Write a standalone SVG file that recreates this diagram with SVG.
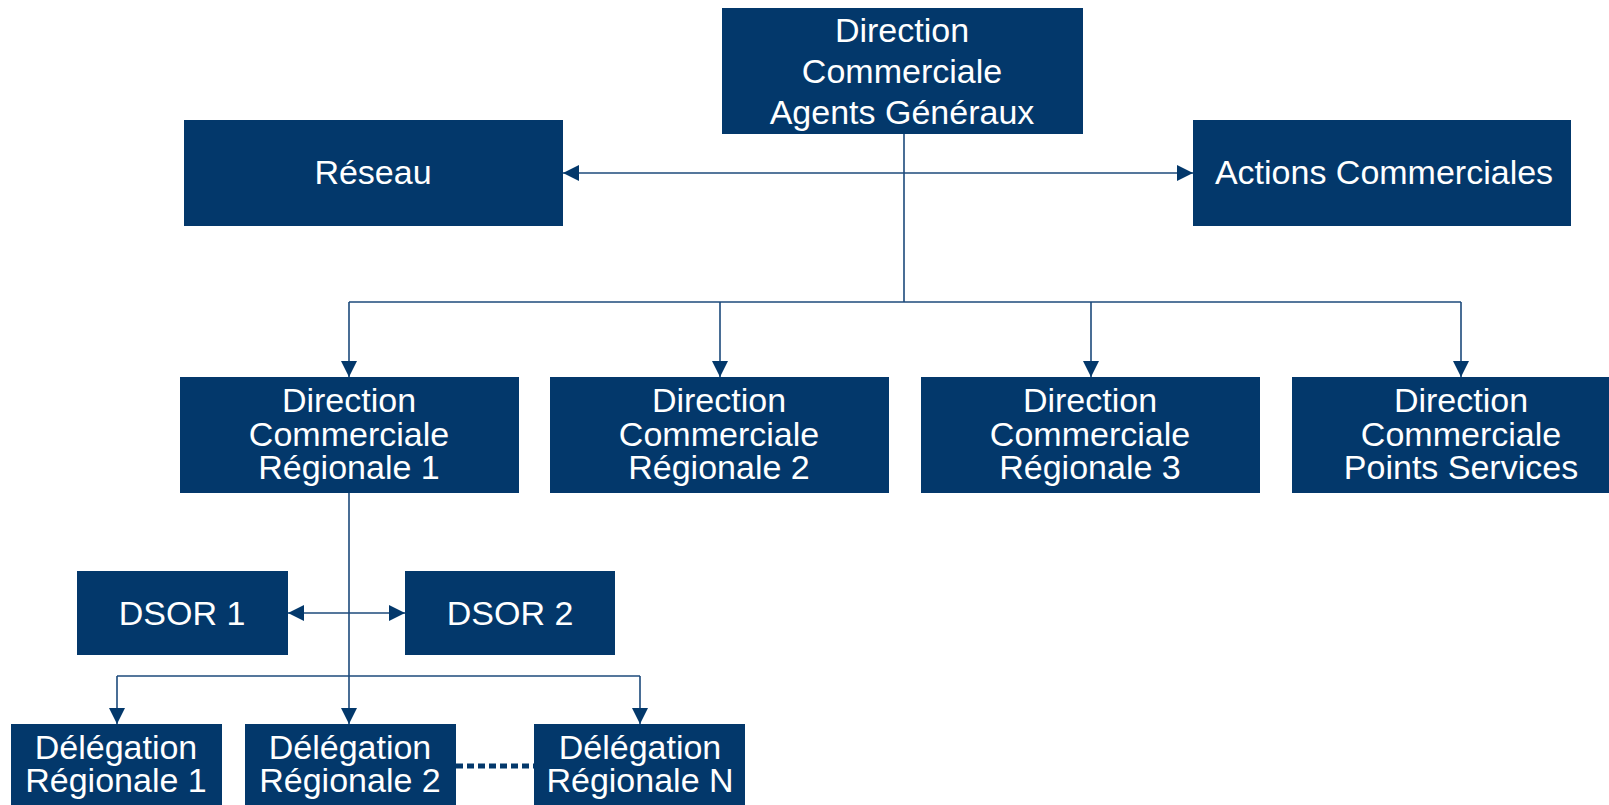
<svg xmlns="http://www.w3.org/2000/svg" width="1609" height="805" viewBox="0 0 1609 805">
  <style>
    .box { fill: #03386b; }
    .lbl { fill: #ffffff; font-family: "Liberation Sans", Arial, sans-serif; font-size: 34px; text-anchor: middle; }
    .wire { fill: none; stroke: #1c4a7b; stroke-width: 1.6; }
    .arr { marker-end: url(#head); }
    .arr2 { marker-start: url(#headStart); marker-end: url(#head); }
    .dots { fill: none; stroke: #03386b; stroke-width: 5; stroke-dasharray: 7 4; }
  </style>
  <defs>
    <marker id="head" markerUnits="userSpaceOnUse" markerWidth="16" markerHeight="16" viewBox="0 0 16 16" refX="16" refY="8" orient="auto">
      <path d="M0,0 L16,8 L0,16 Z" fill="#03386b"/>
    </marker>
    <marker id="headStart" markerUnits="userSpaceOnUse" markerWidth="16" markerHeight="16" viewBox="0 0 16 16" refX="0" refY="8" orient="auto">
      <path d="M16,0 L0,8 L16,16 Z" fill="#03386b"/>
    </marker>
  </defs>
  <rect width="1609" height="805" fill="#ffffff"/>

  <!-- connectors -->
  <g id="connectors">
    <line class="wire arr2" x1="563" y1="173" x2="1193" y2="173"/>
    <line class="wire" x1="904" y1="134" x2="904" y2="302"/>
    <line class="wire" x1="349" y1="302" x2="1461" y2="302"/>
    <line class="wire arr" x1="349" y1="302" x2="349" y2="377"/>
    <line class="wire arr" x1="720" y1="302" x2="720" y2="377"/>
    <line class="wire arr" x1="1091" y1="302" x2="1091" y2="377"/>
    <line class="wire arr" x1="1461" y1="302" x2="1461" y2="377"/>
    <line class="wire arr" x1="349" y1="493" x2="349" y2="724"/>
    <line class="wire arr2" x1="288" y1="613" x2="405" y2="613"/>
    <line class="wire" x1="117" y1="676" x2="640" y2="676"/>
    <line class="wire arr" x1="117" y1="676" x2="117" y2="724"/>
    <line class="wire arr" x1="640" y1="676" x2="640" y2="724"/>
    <line class="dots" x1="456" y1="766" x2="534" y2="766"/>
  </g>

  <g id="dir-agents">
    <rect class="box" x="722" y="8" width="361" height="126"/>
    <text class="lbl" x="902" y="42">Direction</text>
    <text class="lbl" x="902" y="83">Commerciale</text>
    <text class="lbl" x="902" y="124">Agents Généraux</text>
  </g>
  <g id="reseau">
    <rect class="box" x="184" y="120" width="379" height="106"/>
    <text class="lbl" x="373" y="184">Réseau</text>
  </g>
  <g id="actions">
    <rect class="box" x="1193" y="120" width="378" height="106"/>
    <text class="lbl" x="1384" y="184">Actions Commerciales</text>
  </g>

  <g id="dcr1">
    <rect class="box" x="180" y="377" width="339" height="116"/>
    <text class="lbl" x="349" y="412">Direction</text>
    <text class="lbl" x="349" y="446">Commerciale</text>
    <text class="lbl" x="349" y="479">Régionale 1</text>
  </g>
  <g id="dcr2">
    <rect class="box" x="550" y="377" width="339" height="116"/>
    <text class="lbl" x="719" y="412">Direction</text>
    <text class="lbl" x="719" y="446">Commerciale</text>
    <text class="lbl" x="719" y="479">Régionale 2</text>
  </g>
  <g id="dcr3">
    <rect class="box" x="921" y="377" width="339" height="116"/>
    <text class="lbl" x="1090" y="412">Direction</text>
    <text class="lbl" x="1090" y="446">Commerciale</text>
    <text class="lbl" x="1090" y="479">Régionale 3</text>
  </g>
  <g id="dc-points">
    <rect class="box" x="1292" y="377" width="339" height="116"/>
    <text class="lbl" x="1461" y="412">Direction</text>
    <text class="lbl" x="1461" y="446">Commerciale</text>
    <text class="lbl" x="1461" y="479">Points Services</text>
  </g>

  <g id="dsor1">
    <rect class="box" x="77" y="571" width="211" height="84"/>
    <text class="lbl" x="182" y="625">DSOR 1</text>
  </g>
  <g id="dsor2">
    <rect class="box" x="405" y="571" width="210" height="84"/>
    <text class="lbl" x="510" y="625">DSOR 2</text>
  </g>

  <g id="deleg1">
    <rect class="box" x="11" y="724" width="211" height="90"/>
    <text class="lbl" x="116" y="759">Délégation</text>
    <text class="lbl" x="116" y="792">Régionale 1</text>
  </g>
  <g id="deleg2">
    <rect class="box" x="245" y="724" width="211" height="90"/>
    <text class="lbl" x="350" y="759">Délégation</text>
    <text class="lbl" x="350" y="792">Régionale 2</text>
  </g>
  <g id="delegN">
    <rect class="box" x="534" y="724" width="211" height="90"/>
    <text class="lbl" x="640" y="759">Délégation</text>
    <text class="lbl" x="640" y="792">Régionale N</text>
  </g>
</svg>
